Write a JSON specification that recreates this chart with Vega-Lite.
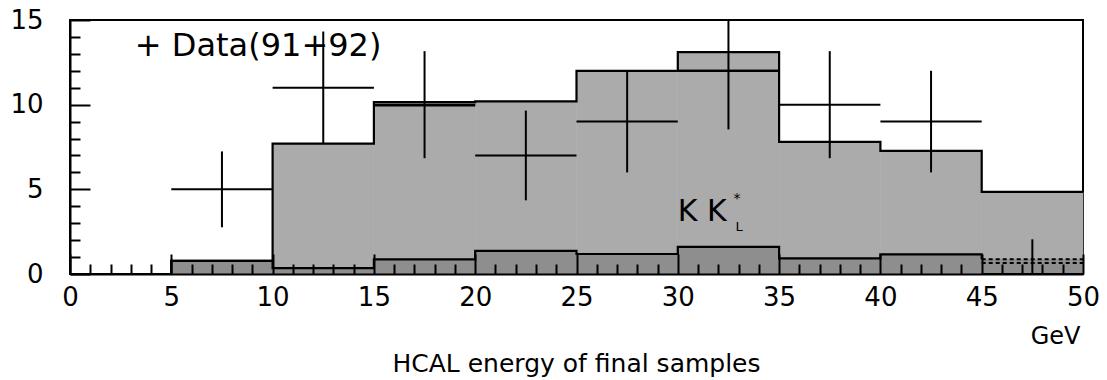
{
  "$schema": "https://vega.github.io/schema/vega-lite/v6.json",
  "width": 1013,
  "height": 254,
  "autosize": {"type": "none"},
  "padding": {"left": 70, "top": 20, "right": 24, "bottom": 106},
  "background": "white",
  "config": {
    "view": {"stroke": "black", "strokeWidth": 2},
    "font": "DejaVu Sans"
  },
  "title": {
    "text": "HCAL energy of final samples",
    "orient": "bottom",
    "anchor": "middle",
    "font": "DejaVu Sans",
    "fontSize": 25,
    "fontWeight": "normal",
    "color": "black",
    "offset": 4
  },
  "resolve": {"axis": {"x": "independent", "y": "independent"}},
  "datasets": {
    "bins": [
      {"lo": 5,  "hi": 10, "mid": 7.5,  "total": 0.77,  "small": 0.77, "n": 5,  "elo": 2.76, "ehi": 7.24},
      {"lo": 10, "hi": 15, "mid": 12.5, "total": 7.7,   "small": 0.35, "n": 11, "elo": 7.68, "ehi": 14.32},
      {"lo": 15, "hi": 20, "mid": 17.5, "total": 10.15, "small": 0.86, "n": 10, "elo": 6.84, "ehi": 13.16},
      {"lo": 20, "hi": 25, "mid": 22.5, "total": 10.2,  "small": 1.37, "n": 7,  "elo": 4.35, "ehi": 9.65},
      {"lo": 25, "hi": 30, "mid": 27.5, "total": 12.0,  "small": 1.18, "n": 9,  "elo": 6.0,  "ehi": 12.0},
      {"lo": 30, "hi": 35, "mid": 32.5, "total": 13.1,  "small": 1.6,  "n": 12, "elo": 8.54, "ehi": 15.46},
      {"lo": 35, "hi": 40, "mid": 37.5, "total": 7.8,   "small": 0.92, "n": 10, "elo": 6.84, "ehi": 13.16},
      {"lo": 40, "hi": 45, "mid": 42.5, "total": 7.27,  "small": 1.16, "n": 9,  "elo": 6.0,  "ehi": 12.0},
      {"lo": 45, "hi": 50, "mid": 47.5, "total": 4.85,  "small": 0.87, "n": 0,  "elo": 0.0,  "ehi": 2.05}
    ],
    "outline": [
      {"s": "total", "i": 0,  "x": 5,  "y": 0},
      {"s": "total", "i": 1,  "x": 5,  "y": 0.77},
      {"s": "total", "i": 2,  "x": 10, "y": 7.7},
      {"s": "total", "i": 3,  "x": 15, "y": 10.15},
      {"s": "total", "i": 4,  "x": 20, "y": 10.2},
      {"s": "total", "i": 5,  "x": 25, "y": 12.0},
      {"s": "total", "i": 6,  "x": 30, "y": 13.1},
      {"s": "total", "i": 7,  "x": 35, "y": 7.8},
      {"s": "total", "i": 8,  "x": 40, "y": 7.27},
      {"s": "total", "i": 9,  "x": 45, "y": 4.85},
      {"s": "total", "i": 10, "x": 50, "y": 4.85},
      {"s": "small", "i": 0,  "x": 5,  "y": 0},
      {"s": "small", "i": 1,  "x": 5,  "y": 0.77},
      {"s": "small", "i": 2,  "x": 10, "y": 0.35},
      {"s": "small", "i": 3,  "x": 15, "y": 0.86},
      {"s": "small", "i": 4,  "x": 20, "y": 1.37},
      {"s": "small", "i": 5,  "x": 25, "y": 1.18},
      {"s": "small", "i": 6,  "x": 30, "y": 1.6},
      {"s": "small", "i": 7,  "x": 35, "y": 0.92},
      {"s": "small", "i": 8,  "x": 40, "y": 1.16},
      {"s": "small", "i": 9,  "x": 45, "y": 0.87}
    ],
    "inner": [
      {"lo": 15, "hi": 20, "y": 9.95},
      {"lo": 30, "hi": 35, "y": 12.0}
    ],
    "tail": [
      {"lo": 45, "hi": 50, "y": 0.87},
      {"lo": 45, "hi": 50, "y": 0.65}
    ]
  },
  "layer": [
    {
      "data": {"name": "bins"},
      "mark": {"type": "bar", "fill": "#ababab", "stroke": "#ababab", "strokeWidth": 0.6},
      "encoding": {
        "x": {
          "field": "lo", "type": "quantitative",
          "scale": {"domain": [0, 50], "nice": false, "zero": false},
          "axis": {
            "orient": "bottom",
            "values": [0, 5, 10, 15, 20, 25, 30, 35, 40, 45, 50],
            "labelOverlap": false,
            "labelFlush": false,
            "labelFont": "DejaVu Sans",
            "labelFontSize": 26,
            "labelColor": "black",
            "labelPadding": 30,
            "tickColor": "black",
            "tickWidth": 2,
            "tickSize": -20,
            "domainColor": "black",
            "domainWidth": 2,
            "grid": false,
            "zindex": 1,
            "title": "GeV",
            "titleFont": "DejaVu Sans",
            "titleFontSize": 24,
            "titleFontWeight": "normal",
            "titleColor": "black",
            "titleAnchor": "end",
            "titleAlign": "right",
            "titleBaseline": "middle",
            "titleX": 1010,
            "titleY": 62
          }
        },
        "x2": {"field": "hi"},
        "y": {
          "field": "total", "type": "quantitative",
          "scale": {"domain": [0, 15], "nice": false},
          "axis": {
            "orient": "left",
            "values": [0, 5, 10, 15],
            "labelOverlap": false,
            "labelFlush": false,
            "labelFont": "DejaVu Sans",
            "labelFontSize": 26,
            "labelColor": "black",
            "labelPadding": 47,
            "tickColor": "black",
            "tickWidth": 2,
            "tickSize": -20,
            "domainColor": "black",
            "domainWidth": 2,
            "grid": false,
            "zindex": 1,
            "title": null
          }
        },
        "y2": {"datum": 0}
      }
    },
    {
      "data": {"name": "bins"},
      "mark": {"type": "bar", "fill": "#8e8e8e", "stroke": "#8e8e8e", "strokeWidth": 0.6},
      "encoding": {
        "x": {
          "field": "lo", "type": "quantitative",
          "axis": {
            "orient": "bottom",
            "values": [1,2,3,4,6,7,8,9,11,12,13,14,16,17,18,19,21,22,23,24,26,27,28,29,31,32,33,34,36,37,38,39,41,42,43,44,46,47,48,49],
            "labels": false,
            "domain": false,
            "tickColor": "black",
            "tickWidth": 2,
            "tickSize": -10,
            "grid": false,
            "zindex": 1,
            "title": null
          }
        },
        "x2": {"field": "hi"},
        "y": {
          "field": "small", "type": "quantitative",
          "axis": {
            "orient": "left",
            "values": [1,2,3,4,6,7,8,9,11,12,13,14],
            "labels": false,
            "domain": false,
            "tickColor": "black",
            "tickWidth": 2,
            "tickSize": -10,
            "grid": false,
            "zindex": 1,
            "title": null
          }
        },
        "y2": {"datum": 0}
      }
    },
    {
      "data": {"name": "outline"},
      "mark": {"type": "line", "interpolate": "step-after", "color": "black", "strokeWidth": 2.2},
      "encoding": {
        "x": {"field": "x", "type": "quantitative", "axis": null},
        "y": {"field": "y", "type": "quantitative", "axis": null},
        "detail": {"field": "s"},
        "order": {"field": "i"}
      }
    },
    {
      "data": {"name": "inner"},
      "mark": {"type": "rule", "color": "black", "strokeWidth": 2.2},
      "encoding": {
        "x": {"field": "lo", "type": "quantitative", "axis": null},
        "x2": {"field": "hi"},
        "y": {"field": "y", "type": "quantitative", "axis": null}
      }
    },
    {
      "data": {"name": "tail"},
      "mark": {"type": "rule", "color": "black", "strokeWidth": 2, "strokeDash": [4, 3]},
      "encoding": {
        "x": {"field": "lo", "type": "quantitative", "axis": null},
        "x2": {"field": "hi"},
        "y": {"field": "y", "type": "quantitative", "axis": null}
      }
    },
    {
      "data": {"name": "bins"},
      "mark": {"type": "rule", "color": "black", "strokeWidth": 2},
      "encoding": {
        "x": {"field": "lo", "type": "quantitative", "axis": null},
        "x2": {"field": "hi"},
        "y": {"field": "n", "type": "quantitative", "axis": null}
      }
    },
    {
      "data": {"name": "bins"},
      "mark": {"type": "rule", "color": "black", "strokeWidth": 2, "clip": true},
      "encoding": {
        "x": {"field": "mid", "type": "quantitative", "axis": null},
        "y": {"field": "elo", "type": "quantitative", "axis": null},
        "y2": {"field": "ehi"}
      }
    },
    {
      "data": {"values": [{"label": "+ Data(91+92)", "x": 3.2, "y": 12.9}]},
      "mark": {"type": "text", "align": "left", "baseline": "alphabetic", "font": "DejaVu Sans", "fontSize": 32, "color": "black"},
      "encoding": {
        "x": {"field": "x", "type": "quantitative", "axis": null},
        "y": {"field": "y", "type": "quantitative", "axis": null},
        "text": {"field": "label"}
      }
    },
    {
      "data": {"values": [{"label": "K K", "x": 30.0, "y": 3.12}]},
      "mark": {"type": "text", "align": "left", "baseline": "alphabetic", "font": "DejaVu Sans", "fontSize": 30, "color": "black"},
      "encoding": {
        "x": {"field": "x", "type": "quantitative", "axis": null},
        "y": {"field": "y", "type": "quantitative", "axis": null},
        "text": {"field": "label"}
      }
    },
    {
      "data": {"values": [{"label": "*", "x": 32.75, "y": 4.2}]},
      "mark": {"type": "text", "align": "left", "baseline": "alphabetic", "font": "DejaVu Sans", "fontSize": 14, "color": "black"},
      "encoding": {
        "x": {"field": "x", "type": "quantitative", "axis": null},
        "y": {"field": "y", "type": "quantitative", "axis": null},
        "text": {"field": "label"}
      }
    },
    {
      "data": {"values": [{"label": "L", "x": 32.85, "y": 2.55}]},
      "mark": {"type": "text", "align": "left", "baseline": "alphabetic", "font": "DejaVu Sans", "fontSize": 13, "color": "black"},
      "encoding": {
        "x": {"field": "x", "type": "quantitative", "axis": null},
        "y": {"field": "y", "type": "quantitative", "axis": null},
        "text": {"field": "label"}
      }
    }
  ]
}
